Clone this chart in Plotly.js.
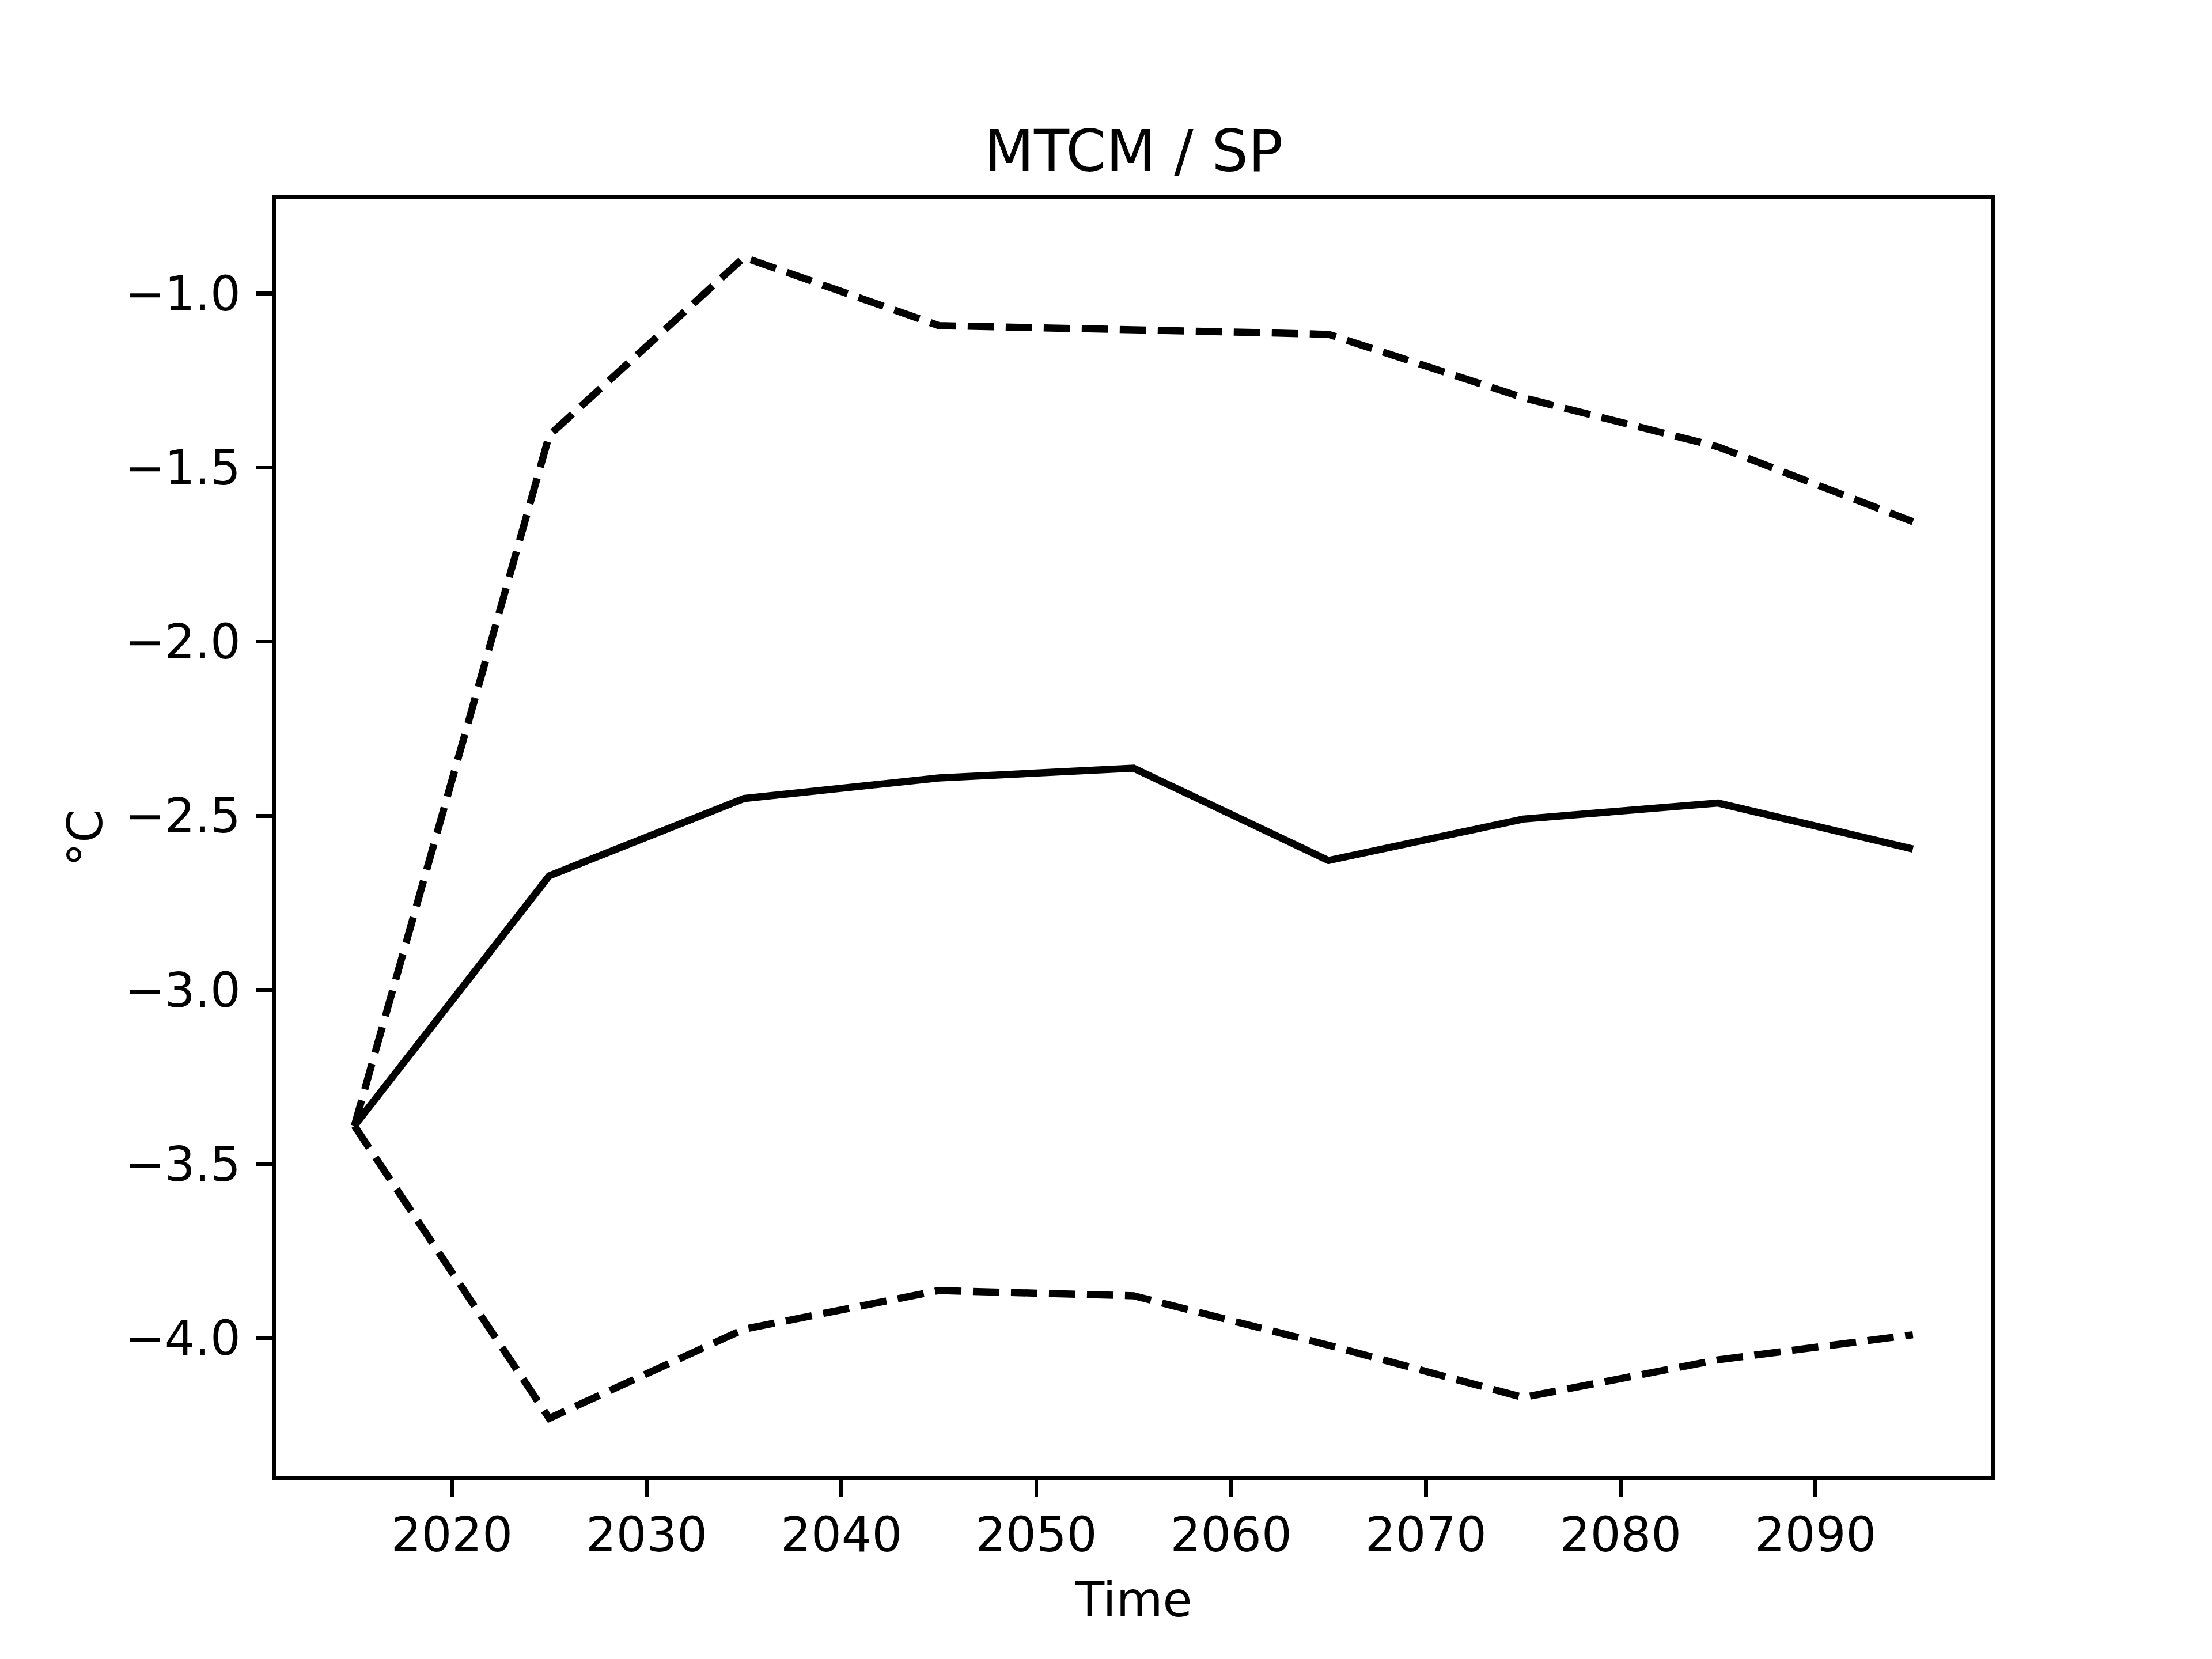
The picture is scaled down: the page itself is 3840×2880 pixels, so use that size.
<!DOCTYPE html>
<html>
<head>
<meta charset="utf-8">
<script src="https://cdn.plot.ly/plotly-3.0.1.min.js"></script>
<style>html,body{margin:0;padding:0;background:#fff;}#chart{width:3840px;height:2880px;}</style>
</head>
<body>
<div id="chart"></div>
<script>
const years = [2015, 2025, 2035, 2045, 2055, 2065, 2075, 2085, 2095];
const meanValues  = [-3.39, -2.672, -2.450, -2.391, -2.363, -2.628, -2.509, -2.463, -2.595];
const upperValues = [-3.39, -1.407, -0.896, -1.092, -1.104, -1.117, -1.299, -1.440, -1.655];
const lowerValues = [-3.39, -4.230, -3.974, -3.863, -3.878, -4.020, -4.170, -4.062, -3.990];
const xTickVals = [2020, 2030, 2040, 2050, 2060, 2070, 2080, 2090];
const xTickText = ['2020', '2030', '2040', '2050', '2060', '2070', '2080', '2090'];
const yTickVals = [-4.0, -3.5, -3.0, -2.5, -2.0, -1.5, -1.0];
const yTickText = ['\u22124.0', '\u22123.5', '\u22123.0', '\u22122.5', '\u22122.0', '\u22121.5', '\u22121.0'];
const titleText = 'MTCM / SP';
const xTitle = 'Time';
const yTitle = '\u00b0C';

const FONT = 'DejaVu Sans, sans-serif';
const lw = 12.5;
const dashStyle = '46px,20px';

const traces = [
  {x: years, y: meanValues, mode: 'lines', line: {color: '#000', width: lw}},
  {x: years, y: upperValues, mode: 'lines', line: {color: '#000', width: lw, dash: dashStyle}},
  {x: years, y: lowerValues, mode: 'lines', line: {color: '#000', width: lw, dash: dashStyle}}
];

const allY = meanValues.concat(upperValues, lowerValues);
const ymin = Math.min(...allY), ymax = Math.max(...allY);
const ypad = (ymax - ymin) * 0.05;
const xmin = Math.min(...years), xmax = Math.max(...years);
const xpad = (xmax - xmin) * 0.05;

const axisCommon = {
  showgrid: false, zeroline: false,
  showline: true, linecolor: '#000', linewidth: 6.67, mirror: true,
  ticks: 'outside', ticklen: 29, tickwidth: 6.67, tickcolor: '#000',
  tickfont: {family: FONT, size: 83, color: '#000'}
};

const layout = {
  width: 3840, height: 2880,
  paper_bgcolor: '#fff', plot_bgcolor: '#fff',
  showlegend: false,
  margin: {l: 480, r: 384, t: 345.6, b: 316.8, pad: 0},
  title: {text: titleText, font: {family: FONT, size: 100, color: '#000'},
          x: 0.5, xref: 'paper', xanchor: 'center', y: 1 - 262 / 2880, yref: 'container', yanchor: 'middle'},
  xaxis: Object.assign({}, axisCommon, {
    range: [xmin - xpad, xmax + xpad],
    tickmode: 'array', tickvals: xTickVals, ticktext: xTickText,
    ticklabelstandoff: -5,
    title: {text: xTitle, font: {family: FONT, size: 83, color: '#000'}, standoff: 38}
  }),
  yaxis: Object.assign({}, axisCommon, {
    range: [ymin - ypad, ymax + ypad],
    tickmode: 'array', tickvals: yTickVals, ticktext: yTickText,
    ticklabelstandoff: 10,
    title: {text: yTitle, font: {family: FONT, size: 83, color: '#000'}, standoff: 13}
  })
};

Plotly.newPlot('chart', traces, layout, {staticPlot: true, displayModeBar: false});
</script>
</body>
</html>
